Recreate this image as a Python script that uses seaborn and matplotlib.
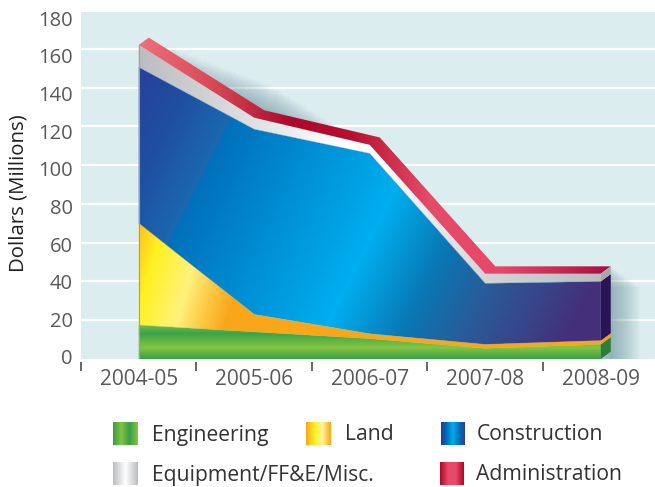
import numpy as np
import pandas as pd
import seaborn as sns
import matplotlib.pyplot as plt
from matplotlib.colors import LinearSegmentedColormap
from matplotlib.patches import Polygon

# Values (Millions of dollars per layer)
years = ['2004-05', '2005-06', '2006-07', '2007-08', '2008-09']
engineering = [17.5, 14, 10.5, 5.5, 7.5]
land = [52.5, 9, 2.5, 2, 2]
construction = [80.5, 95.5, 93, 31.5, 30.5]
equipment = [11.5, 6, 4.5, 5, 4]
administration = [3.8, 3.8, 3.8, 3.8, 3.8]

W, H = 655, 487
LEFT, RIGHT, TOP, BOTTOM = 81, 655, 12, 359
DEPTH_X = 0.087  # depth of the 3d effect, in categories

sns.set_theme(style='white')
plt.rcParams['font.family'] = ['Open Sans', 'DejaVu Sans']

fig = plt.figure(figsize=(W / 100, H / 100), dpi=100, facecolor='white')
ax = fig.add_axes([LEFT / W, 1 - BOTTOM / H, (RIGHT - LEFT) / W, (BOTTOM - TOP) / H])
ax.set_facecolor('#dcedf0')

x = np.arange(len(years))
xlim = (-0.5, 4.47)
ylim = (0, 179)

eng_top, land_top, con_top, eq_top = np.cumsum([engineering, land, construction, equipment], axis=0)
adm_top = eq_top + np.array(administration)

xs_px, ys_px = np.meshgrid(np.arange(LEFT, RIGHT), np.arange(TOP, BOTTOM))


def make_cmap(stops):
    lo, hi = stops[0][0], stops[-1][0]
    return LinearSegmentedColormap.from_list(
        'g', [((p - lo) / (hi - lo), c) for p, c in stops], N=512), lo, hi


def gradient(verts, stops, slope=0.0, vertical=False, z=3):
    cmap, lo, hi = make_cmap(stops)
    pos = ys_px if vertical else xs_px + slope * (ys_px - 200)
    im = ax.imshow(np.clip(pos, lo, hi), cmap=cmap, vmin=lo, vmax=hi, aspect='auto',
                   extent=(*xlim, *ylim), origin='upper', zorder=z, interpolation='bilinear')
    im.set_clip_path(Polygon(verts, transform=ax.transData))


def band(xl, lower, xu, upper):
    return np.vstack([np.column_stack([xl, lower]), np.column_stack([xu, upper])[::-1]])


# white grid lines
ax.set_yticks(range(20, 180, 20))
ax.yaxis.grid(True, color='white', lw=1.6)
ax.set_axisbelow(True)

# soft shadow behind the block: a blob round 2005-06 and a band right of 2008-09
for lw in np.arange(2, 34, 1.5):
    half = 0.95 - lw / 40
    t = np.array([1 - half, 1, 1 + half * 0.7])
    ax.plot(t + DEPTH_X, np.interp(t, x, adm_top), color='#3f6f7c', lw=lw, alpha=0.018,
            zorder=1.5, solid_capstyle='butt')
for lw in np.arange(2, 44, 2):
    ax.plot([x[-1] + DEPTH_X] * 2, [0, adm_top[-1] - lw / 4], color='#3f6f7c', lw=lw, alpha=0.022,
            zorder=1.5, solid_capstyle='butt')

gradient(band(x, np.zeros(5), x, eng_top),
         [(325, '#72b84a'), (333, '#3ca34a'), (347, '#85c441'), (359, '#35a04a')], vertical=True)
gradient(band(x, eng_top, x, land_top),
         [(130, '#f9a61a'), (170, '#fff021'), (212, '#fff27d'), (238, '#fcc843'),
          (262, '#faa61a'), (600, '#faa61a')], slope=0.3)
gradient(band(x, land_top, x, con_top),
         [(70, '#27409a'), (130, '#1f4fa0'), (188, '#1b68b0'), (190, '#0070bb'),
          (250, '#0083ca'), (390, '#00aeef'), (470, '#0a76b3'), (535, '#2a5a98'),
          (600, '#3c3f85'), (635, '#452f7a'), (760, '#452f7a')], slope=0.5)
gradient(band(x, con_top, x, eq_top),
         [(139, '#bcbdc0'), (254, '#e0e1e3'), (340, '#ffffff'), (375, '#ffffff'),
          (440, '#e6e7e8'), (485, '#d4d5d7'), (601, '#bcbdc0')])
gradient(band(x, eq_top, x + DEPTH_X, adm_top),
         [(139, '#ef6f7c'), (210, '#d94a58'), (265, '#b8203a'), (290, '#b0072c'),
          (350, '#b5102f'), (430, '#e54c68'), (500, '#e8466a'), (560, '#c62a52'),
          (611, '#a80a40')])

# right hand side faces of the block
levels = [0, eng_top[-1], land_top[-1], con_top[-1], eq_top[-1]]
side_colors = ['#2a7d3a', '#f7a11a', '#2a1458', '#a8a8ab']
rise = administration[-1]
for lo, hi, c in zip(levels[:-1], levels[1:], side_colors):
    ax.add_patch(Polygon([(x[-1], lo), (x[-1] + DEPTH_X, lo + rise),
                          (x[-1] + DEPTH_X, hi + rise), (x[-1], hi)], color=c, lw=0, zorder=3))

# thin edges of the layers
edges = pd.DataFrame({
    'year': np.tile(x, 3),
    'value': np.concatenate([eng_top, land_top, con_top]),
    'layer': np.repeat(['Engineering', 'Land', 'Construction'], 5),
})
sns.lineplot(data=edges, x='year', y='value', hue='layer', ax=ax, legend=False, lw=0.5, zorder=3.5,
             palette={'Engineering': '#8cc63f', 'Land': '#f9b233', 'Construction': '#1c75bc'}, alpha=0.5)
ax.plot([0, 0], [0, eq_top[0]], color='#9aa0a6', lw=0.8, zorder=3.5)

ax.set_xlim(xlim)
ax.set_ylim(ylim)
ax.set_xlabel('')
ax.set_ylabel('')

# category labels sit mid-way, tick marks between categories
ax.set_xticks(x)
ax.set_xticklabels(years)
ax.set_xticks([-0.5, 0.5, 1.5, 2.5, 3.5], minor=True)
ax.tick_params(axis='x', which='major', bottom=False, pad=-0.8, labelsize=15, labelcolor='#58595b')
ax.tick_params(axis='x', which='minor', bottom=True, length=6.5, width=1.3, color='#58595b', direction='out')
sns.despine(ax=ax, left=True, top=True, right=True, bottom=False, offset={'bottom': 2})
for s in ax.spines.values():
    s.set_visible(False)

# y labels do not line up exactly with the grid in the original
lab = ax.twinx()
lab.set_ylim((BOTTOM - 357) / -1.883, (357 - TOP) / 1.883)
lab.set_yticks(range(0, 200, 20))
lab.yaxis.tick_left()
lab.tick_params(axis='y', left=False, right=False, labelleft=True, labelright=False,
                labelsize=14.5, labelcolor='#58595b', pad=0)
lab.patch.set_visible(False)
for s in lab.spines.values():
    s.set_visible(False)
# twinx switches the left ticks of the main axes back on
ax.tick_params(axis='y', left=False, right=False, labelleft=False, labelright=False)

fig.text(19 / W, 1 - 193 / H, 'Dollars (Millions)', rotation=90, ha='center', va='center',
         fontsize=14.7, color='#231f20')

# legend with gradient swatches
legend_rows = [
    ('Engineering', 113, 422, 152, ['#3a9d48', '#85c441', '#3a9d48', '#85c441']),
    ('Land', 306, 422, 345, ['#f9a61a', '#fff021', '#fff59a', '#f9a61a']),
    ('Construction', 441, 422, 477, ['#1c3f94', '#0072bc', '#00aeef', '#0072bc', '#2e3f8f']),
    ('Equipment/FF&E/Misc.', 113, 462, 152, ['#bcbdc0', '#ffffff', '#bcbdc0']),
    ('Administration', 440, 462, 476, ['#b0072c', '#e84a68', '#e84a68', '#b0072c']),
]
for name, px, py, tx, cols in legend_rows:
    sw = fig.add_axes([px / W, 1 - (py + 23) / H, 24 / W, 23 / H])
    sw.imshow(np.linspace(0, 1, 64).reshape(1, -1), aspect='auto',
              cmap=LinearSegmentedColormap.from_list('s', cols))
    sw.axis('off')
    fig.text(tx / W, 1 - (py + 13) / H, name, ha='left', va='center', fontsize=15.2, color='#333333')

fig.savefig('out.png', dpi=100)
